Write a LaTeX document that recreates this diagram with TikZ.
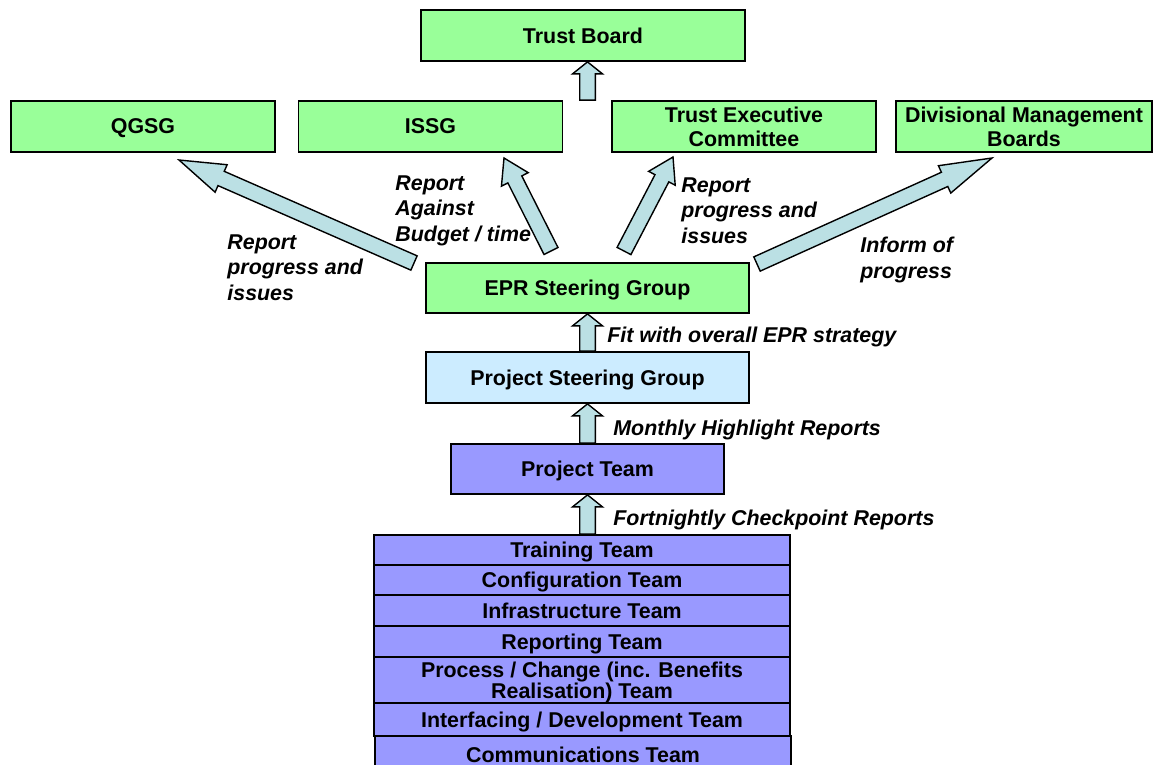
\documentclass[tikz,border=0pt]{standalone}
\usepackage{fontspec}
\setmainfont{Liberation Sans}
\usetikzlibrary{calc}

\definecolor{boxgreen}{RGB}{153,255,153}
\definecolor{boxblue}{RGB}{204,236,255}
\definecolor{boxlilac}{RGB}{153,153,255}
\definecolor{arrowfill}{RGB}{187,224,228}

\newcommand{\fatarrow}[3][6pt]{%
  \coordinate (hb) at ($(#3)!#1!(#2)$);
  \draw[fat] ($(#2)!3.9pt!90:(#3)$) -- ($(hb)!3.9pt!-90:(#2)$) -- ($(hb)!7.5pt!-90:(#2)$) -- (#3)
    -- ($(hb)!7.5pt!90:(#2)$) -- ($(hb)!3.9pt!90:(#2)$) -- ($(#2)!3.9pt!-90:(#3)$) -- cycle;}

\begin{document}
\begin{tikzpicture}[x=0.5pt,y=-0.5pt,
  box/.style={draw,line width=0.9pt,align=center,inner sep=2pt,minimum height=25.5pt,text depth=0pt,
    font=\fontsize{10.7}{12}\selectfont\bfseries},
  board/.style={box,fill=boxgreen,minimum width=132pt},
  team/.style={draw,line width=0.9pt,align=center,inner xsep=2pt,inner ysep=0pt,fill=boxlilac,text depth=0pt,
    minimum width=208pt,minimum height=#1,font=\fontsize{10.7}{10.5}\selectfont\bfseries},
  lbl/.style={anchor=west,align=left,inner sep=0pt,text depth=0pt,font=\fontsize{10.7}{12.8}\selectfont\bfseries\itshape},
  fat/.style={draw,line width=0.7pt,fill=arrowfill,line join=miter}]

\useasboundingbox (0,0) rectangle (1156,765);
\clip (0,0) rectangle (1156,765);

\node[board,minimum width=162pt] (tb) at (583,35.5) {Trust Board};

\node[board] (qgsg) at (143,126.5) {QGSG};
\node[board] (issg) at (430.5,126.5) {ISSG};
\node[board] (tec) at (744,126.5) {Trust Executive\\Committee};
\node[board,minimum width=128pt] (dmb) at (1024,126.5) {Divisional Management\\Boards};

\node[box,fill=boxgreen,minimum width=161.5pt,minimum height=25pt] (epr) at (587.5,288) {EPR Steering Group};
\node[box,fill=boxblue,minimum width=161.5pt] (psg) at (587.5,377.5) {Project Steering Group};
\node[box,fill=boxlilac,minimum width=136.5pt,minimum height=25pt] (pt) at (587.5,469) {Project Team};

\node[team=15pt] (train) at (582,550) {Training Team};
\node[team=15pt] (config) at (582,580) {Configuration Team};
\node[team=15.5pt] (infra) at (582,610.5) {Infrastructure Team};
\node[team=15.5pt] (report) at (582,641.5) {Reporting Team};
\node[team=23pt] (process) at (582,680) {Process / Change (inc. Benefits\\Realisation) Team};
\node[team=16.5pt] (iface) at (582,719.5) {Interfacing / Development Team};
\node[team=19pt] (comms) at (583,755) {Communications Team};

% upward arrows
\coordinate (up0) at (tec.north -| epr.north);
\coordinate (up1) at (tb.south -| epr.north);
\coordinate (up2) at (train.north -| pt.south);
\fatarrow{up0}{up1}
\fatarrow{psg.north}{epr.south}
\fatarrow{pt.north}{psg.south}
\fatarrow{up2}{pt.south}

% arrows from the steering group
\coordinate (qgsgtail) at (414,263);
\coordinate (qgsgtip) at (179,160);
\coordinate (issgtail) at (551,251);
\coordinate (issgtip) at (504,158);
\coordinate (tectail) at (624,251);
\coordinate (tectip) at (673,157);
\coordinate (dmbtail) at (757,264);
\coordinate (dmbtip) at (992,158);
\fatarrow[23pt]{qgsgtail}{qgsgtip}
\fatarrow[12pt]{issgtail}{issgtip}
\fatarrow[12pt]{tectail}{tectip}
\fatarrow[26pt]{dmbtail}{dmbtip}

\node[lbl] (l1) at (227,267.5) {Report\\progress and\\issues};
\node[lbl] (l2) at (395,208.5) {Report\\Against\\Budget / time};
\node[lbl] (l3) at (681,210.5) {Report\\progress and\\issues};
\node[lbl] (l4) at (860,257.5) {Inform of\\progress};
\node[lbl] (l5) at (607,335) {Fit with overall EPR strategy};
\node[lbl] (l6) at (613,428) {Monthly Highlight Reports};
\node[lbl] (l7) at (613,518) {Fortnightly Checkpoint Reports};
\end{tikzpicture}
\end{document}
